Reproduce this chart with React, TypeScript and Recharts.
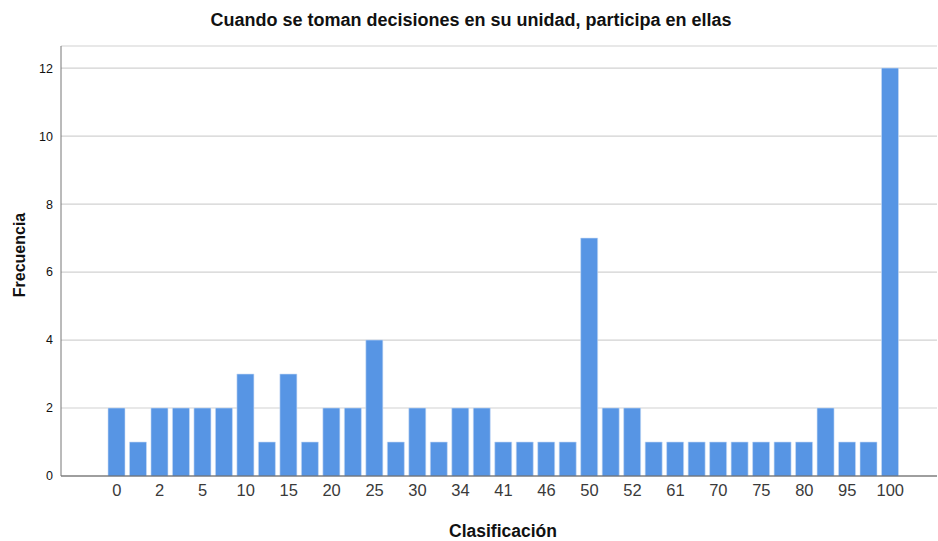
import React from 'react';
import { BarChart, Bar, XAxis, YAxis, CartesianGrid, Label } from 'recharts';

const categories = ['0','1','2','3','5','8','10','12','15','18','20','23','25','28','30','33','34','40','41','45','46','48','50','51','52','60','61','65','70','72','75','78','80','90','95','98','100'];
const frequencies = [2,1,2,2,2,2,3,1,3,1,2,2,4,1,2,1,2,2,1,1,1,1,7,2,2,1,1,1,1,1,1,1,1,2,1,1,12];
const yTicks = [0,2,4,6,8,10,12];

const title = 'Cuando se toman decisiones en su unidad, participa en ellas';
const xTitle = 'Clasificación';
const yTitle = 'Frecuencia';

const data = categories.map((c, i) => ({ cat: c, freq: frequencies[i] }));

const FONT = '"Liberation Sans", Arial, sans-serif';

const YLabel = (props: any) => {
  const vb = props.viewBox || {};
  const cx = 19;
  const cy = vb.y + vb.height / 2 - 6;
  return (
    <text x={cx} y={cy} transform={`rotate(-90 ${cx} ${cy})`} textAnchor="middle" dominantBaseline="central"
      style={{ fontFamily: FONT, fontSize: 16, fontWeight: 700, fill: '#111' }}>
      {yTitle}
    </text>
  );
};

const XLabel = (props: any) => {
  const vb = props.viewBox || {};
  const cx = vb.x + vb.width / 2 + 4;
  return (
    <text x={cx} y={537} textAnchor="middle"
      style={{ fontFamily: FONT, fontSize: 17.5, fontWeight: 700, fill: '#111' }}>
      {xTitle}
    </text>
  );
};

export default function App() {
  return (
    <div style={{ position: 'absolute', left: 0, top: 0, width: 938, height: 541, background: '#fff', fontFamily: FONT }}>
      <div style={{ position: 'absolute', left: 2, top: 10, width: 938, textAlign: 'center', fontSize: 18, fontWeight: 700, color: '#111', lineHeight: '20px' }}>
        {title}
      </div>
      <BarChart width={938} height={541} data={data} margin={{ top: 46, right: 1, bottom: 0, left: 0 }} barCategoryGap={2}>
        <CartesianGrid vertical={false} stroke="#d2d2d2" strokeWidth={1.2} />
        <XAxis dataKey="cat" type="category" interval={1} tickLine={false} height={65}
          axisLine={{ stroke: '#555', strokeWidth: 1 }}
          padding={{ left: 45, right: 36 }}
          tick={{ fontFamily: FONT, fontSize: 16.5, fill: '#3a3a3a' }}>
          <Label content={<XLabel />} />
        </XAxis>
        <YAxis type="number" domain={[0, 12.65]} ticks={yTicks} width={61} tickLine={false}
          axisLine={{ stroke: '#777', strokeWidth: 1 }}
          tick={{ fontFamily: FONT, fontSize: 12.5, fill: '#111' }}>
          <Label content={<YLabel />} />
        </YAxis>
        <Bar dataKey="freq" fill="#5795e4" stroke="#c9dcf5" strokeWidth={0.6} isAnimationActive={false} />
      </BarChart>
    </div>
  );
}
